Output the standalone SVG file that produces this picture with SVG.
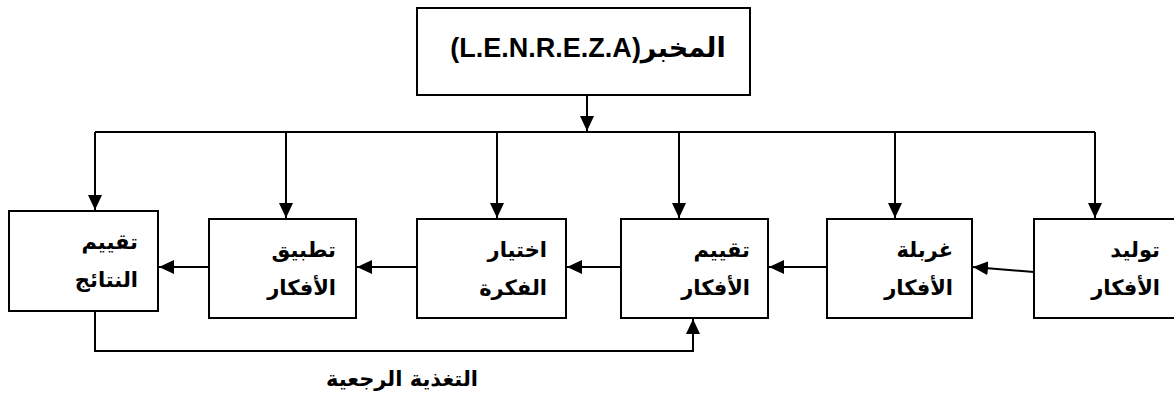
<svg xmlns="http://www.w3.org/2000/svg" width="1174" height="398" viewBox="0 0 1174 398">
  <style>
    .box { fill: #ffffff; stroke: #000000; stroke-width: 2; }
    .wire { fill: none; stroke: #000000; stroke-width: 2; }
    .lbl { font-family: "DejaVu Sans", "Liberation Sans", sans-serif; font-weight: bold; font-size: 21px; fill: #000000; }
    .title { font-family: "Liberation Sans", "DejaVu Sans", sans-serif; font-weight: bold; font-size: 27px; fill: #000000; }
  </style>
  <defs>
    <marker id="head" markerUnits="userSpaceOnUse" markerWidth="16" markerHeight="14" refX="15" refY="7" orient="auto">
      <path d="M0,0 L15,7 L0,14 Z" fill="#000000"/>
    </marker>
  </defs>

  <rect width="1174" height="398" fill="#ffffff"/>

  <!-- connectors -->
  <g id="connectors">
    <line class="wire" x1="587" y1="95" x2="587" y2="131" marker-end="url(#head)"/>
    <polyline class="wire" points="95,132 1095,132"/>
    <line class="wire" x1="95" y1="132" x2="95" y2="210" marker-end="url(#head)"/>
    <line class="wire" x1="286" y1="132" x2="286" y2="218" marker-end="url(#head)"/>
    <line class="wire" x1="497" y1="132" x2="497" y2="218" marker-end="url(#head)"/>
    <line class="wire" x1="679" y1="132" x2="679" y2="218" marker-end="url(#head)"/>
    <line class="wire" x1="895" y1="132" x2="895" y2="218" marker-end="url(#head)"/>
    <line class="wire" x1="1095" y1="132" x2="1095" y2="218" marker-end="url(#head)"/>

    <line class="wire" x1="1034" y1="272" x2="973" y2="267" marker-end="url(#head)"/>
    <line class="wire" x1="827" y1="267" x2="769" y2="267" marker-end="url(#head)"/>
    <line class="wire" x1="621" y1="267" x2="567" y2="267" marker-end="url(#head)"/>
    <line class="wire" x1="417" y1="267" x2="357" y2="267" marker-end="url(#head)"/>
    <line class="wire" x1="209" y1="267" x2="159" y2="267" marker-end="url(#head)"/>

    <polyline class="wire" points="95,311 95,351 693,351 693,319" marker-end="url(#head)"/>
    <text class="lbl" x="402" y="386" text-anchor="middle">التغذية الرجعية</text>
  </g>

  <!-- laboratory -->
  <g id="lab">
    <rect class="box" x="417" y="8" width="333" height="87"/>
    <text class="title" x="588" y="57" text-anchor="middle" direction="rtl">المخبر(L.E.N.R.E.Z.A)</text>
  </g>

  <!-- stages, right to left -->
  <g id="generate">
    <rect class="box" x="1034" y="219" width="146" height="99"/>
    <text class="lbl" x="1160" y="257" text-anchor="end">توليد</text>
    <text class="lbl" x="1160" y="295" text-anchor="end">الأفكار</text>
  </g>
  <g id="screen">
    <rect class="box" x="827" y="219" width="145" height="99"/>
    <text class="lbl" x="953" y="257" text-anchor="end">غربلة</text>
    <text class="lbl" x="953" y="295" text-anchor="end">الأفكار</text>
  </g>
  <g id="evaluate-ideas">
    <rect class="box" x="621" y="219" width="147" height="99"/>
    <text class="lbl" x="750" y="257" text-anchor="end">تقييم</text>
    <text class="lbl" x="750" y="295" text-anchor="end">الأفكار</text>
  </g>
  <g id="choose">
    <rect class="box" x="417" y="219" width="149" height="99"/>
    <text class="lbl" x="547" y="257" text-anchor="end">اختيار</text>
    <text class="lbl" x="547" y="295" text-anchor="end">الفكرة</text>
  </g>
  <g id="apply">
    <rect class="box" x="209" y="219" width="147" height="99"/>
    <text class="lbl" x="336" y="257" text-anchor="end">تطبيق</text>
    <text class="lbl" x="336" y="295" text-anchor="end">الأفكار</text>
  </g>
  <g id="evaluate-results">
    <rect class="box" x="9" y="211" width="149" height="100"/>
    <text class="lbl" x="138" y="249" text-anchor="end">تقييم</text>
    <text class="lbl" x="138" y="287" text-anchor="end">النتائج</text>
  </g>
</svg>
